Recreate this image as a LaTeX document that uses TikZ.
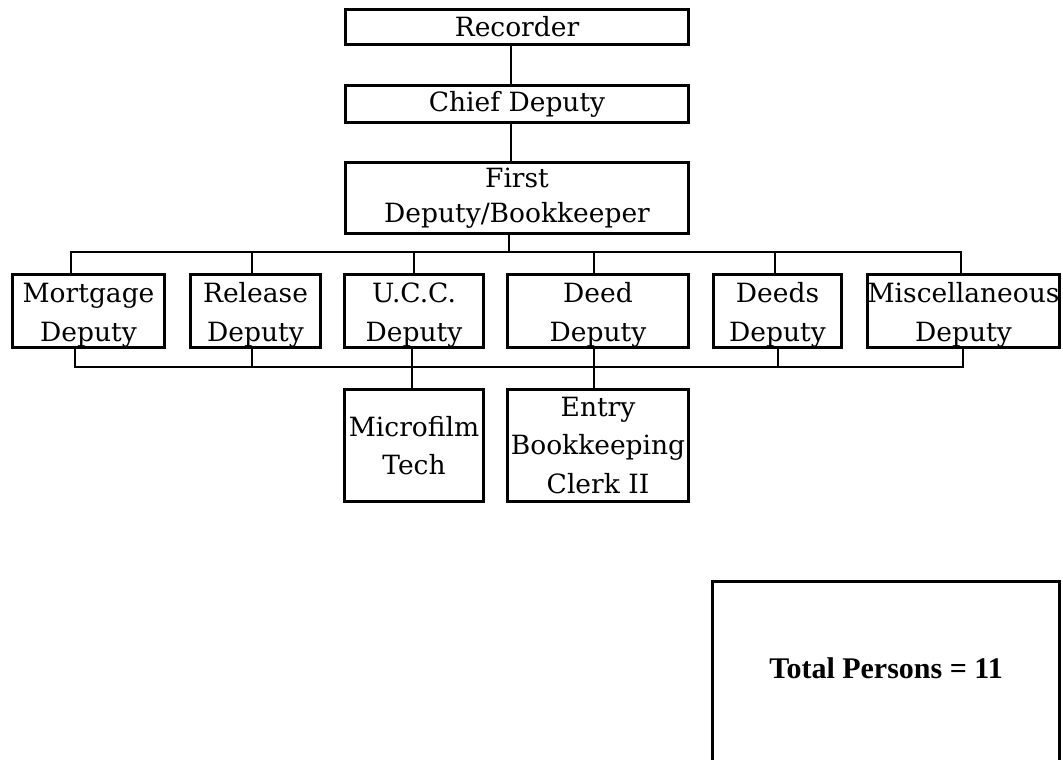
\documentclass[tikz,border=0pt]{standalone}
\usepackage{fontspec}
\setmainfont{DejaVu Serif}
\newfontfamily\totfont{Liberation Serif}
\newcommand{\toppad}{\rule{0pt}{28pt}}
\begin{document}
\begin{tikzpicture}[x=1pt,y=-1pt,
  box/.style={draw=black, line width=3pt, rectangle, inner sep=0pt, align=center,
    font=\fontsize{26.5}{38.5}\selectfont},
  conn/.style={draw=black, line width=1.3pt}]
\useasboundingbox (0,0) rectangle (1063,760);
% top chain
\node[box, minimum width=343, minimum height=35] (rec) at (517,27) {Recorder};
\node[box, minimum width=343, minimum height=37] (chief) at (517,104) {Chief Deputy};
\node[box, minimum width=343, minimum height=71, font=\fontsize{26.5}{35}\selectfont] (first) at (517,198) {First\\Deputy/Bookkeeper};
% deputies row
\node[box, minimum width=152, minimum height=73] (mort) at (88.5,311) {\toppad Mortgage\\Deputy};
\node[box, minimum width=130, minimum height=73] (rel) at (255.5,311) {\toppad Release\\Deputy};
\node[box, minimum width=139, minimum height=73] (ucc) at (414,311) {\toppad U.C.C.\\Deputy};
\node[box, minimum width=181, minimum height=73] (deed) at (598,311) {\toppad Deed\\Deputy};
\node[box, minimum width=128, minimum height=73] (deeds) at (777.5,311) {\toppad Deeds\\Deputy};
\node[box, minimum width=192, minimum height=73] (misc) at (963.5,311) {\toppad Miscellaneous\\Deputy};
% bottom row
\node[box, minimum width=139, minimum height=112] (micro) at (414,445.5) {Microfilm\\Tech};
\node[box, minimum width=181, minimum height=112] (entry) at (598,445.5) {Entry\\Bookkeeping\\Clerk II};
% connectors
\coordinate (topx) at (511,0);
\draw[conn] (rec.south -| topx) -- (chief.north -| topx);
\draw[conn] (chief.south -| topx) -- (first.north -| topx);
\coordinate (tb) at (509,252);
\draw[conn] (first.south -| tb) -- (tb);
\draw[conn] ([xshift=-17.5pt]mort.north) |- (tb);
\draw[conn] ([xshift=-3.5pt]rel.north) |- (tb);
\draw[conn] (ucc.north) |- (tb);
\draw[conn] ([xshift=-4pt]deed.north) |- (tb);
\draw[conn] ([xshift=-2.5pt]deeds.north) |- (tb);
\draw[conn] ([xshift=-2.5pt]misc.north) |- (tb);
\coordinate (bb) at (509,367);
\draw[conn] ([xshift=-13.5pt]mort.south) |- (bb);
\draw[conn] ([xshift=-3.5pt]rel.south) |- (bb);
\draw[conn] ([xshift=-2pt]ucc.south) |- (bb);
\draw[conn] ([xshift=-4pt]deed.south) |- (bb);
\draw[conn] ([xshift=0.5pt]deeds.south) |- (bb);
\draw[conn] ([xshift=-0.5pt]misc.south) |- (bb);
\draw[conn] ([xshift=-2pt]ucc.south) -- ([xshift=-2pt]micro.north);
\draw[conn] ([xshift=-4pt]deed.south) -- ([xshift=-4pt]entry.north);
% total box
\draw[line width=3pt] (712.5,581.5) rectangle (1059.5,800);
\node[font=\totfont\bfseries\fontsize{30}{36}\selectfont] (total) at (886,668) {Total Persons = 11};
\end{tikzpicture}
\end{document}
